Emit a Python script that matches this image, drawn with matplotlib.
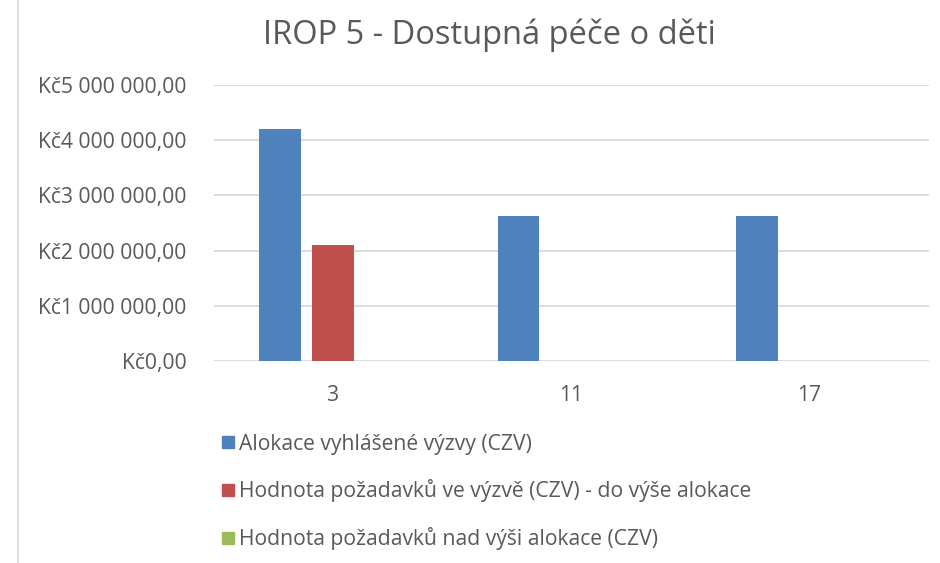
import matplotlib.pyplot as plt
from matplotlib.lines import Line2D
import numpy as np

categories = ["3", "11", "17"]
alokace = [4210000, 2630000, 2630000]
do_vyse = [2100000, 0, 0]
nad_vysi = [0, 0, 0]
series_names = [
    "Alokace vyhlášené výzvy (CZV)",
    "Hodnota požadavků ve výzvě (CZV) - do výše alokace",
    "Hodnota požadavků nad výši alokace (CZV)",
]
colors = ["#4F81BD", "#C0504D", "#9BBB59"]
text_color = "#595959"

plt.rcParams['font.family'] = ['Open Sans', 'DejaVu Sans']

fig = plt.figure(figsize=(9.4, 5.63), dpi=100)
ax = fig.add_axes([0.2277, 0.3588, 0.7603, 0.4902])

x = np.arange(len(categories))
width = 0.176
step = 0.222
for i, vals in enumerate([alokace, do_vyse, nad_vysi]):
    ax.bar(x + (i - 1) * step, vals, width, color=colors[i], label=series_names[i], zorder=3)

ax.set_xlim(-0.5, len(categories) - 0.5)
ax.set_ylim(0, 5000000)
ax.set_yticks(np.arange(0, 5000001, 1000000))

def kc(v):
    s = f"{int(v):,}".replace(",", " ")
    return f"Kč{s},00"

ax.set_yticklabels([kc(v) for v in ax.get_yticks()])
ax.set_xticks(x)
ax.set_xticklabels(categories)
ax.tick_params(axis='both', length=0, colors=text_color, labelsize=15.2)
ax.tick_params(axis='y', pad=20)
ax.tick_params(axis='x', pad=17)
ax.grid(axis='y', color="#D9D9D9", linewidth=1.3, zorder=0)
for s in ax.spines.values():
    s.set_visible(False)

fig.text(0.521, 0.938, "IROP 5 - Dostupná péče o děti", ha='center', va='center',
         fontsize=23.5, color=text_color)

handles = [Line2D([], [], marker='s', linestyle='none', markersize=8.5, color=c) for c in colors]
fig.legend(handles, series_names, loc='upper left', bbox_to_anchor=(0.226, 0.245),
           frameon=False, fontsize=15.2, labelcolor=text_color, handletextpad=0.15,
           labelspacing=1.18, borderaxespad=0, handlelength=0.7)

fig.add_artist(Line2D([0.0195, 0.0195], [0, 1], color="#D9D9D9", linewidth=1.2,
                      transform=fig.transFigure))

fig.savefig("out.png", dpi=100)
